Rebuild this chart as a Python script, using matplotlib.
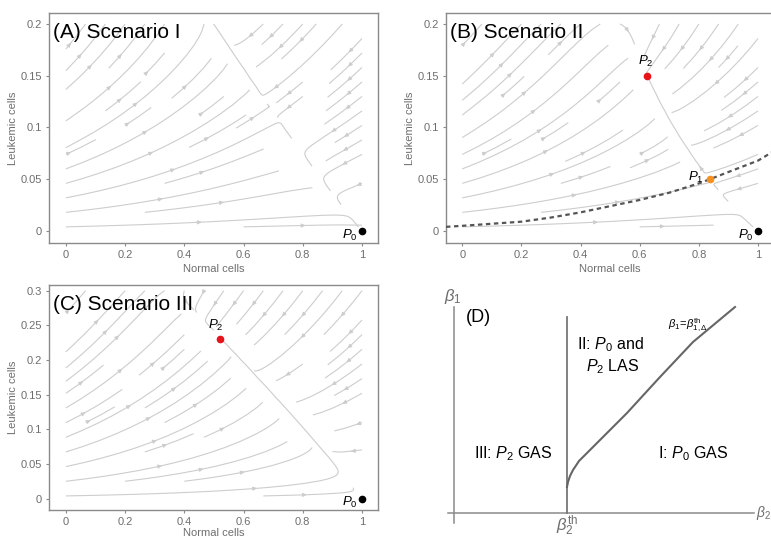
import numpy as np
import matplotlib
matplotlib.use("Agg")
import matplotlib.pyplot as plt

plt.rcParams['font.family'] = ['Liberation Sans', 'DejaVu Sans']
plt.rcParams['mathtext.fontset'] = 'custom'
plt.rcParams['mathtext.rm'] = 'Liberation Sans'
plt.rcParams['mathtext.it'] = 'Liberation Sans:italic'
plt.rcParams['mathtext.bf'] = 'Liberation Sans:bold'

# ticks
x_ticks = [0, 0.2, 0.4, 0.6, 0.8, 1]
x_tick_labels = ['0', '0.2', '0.4', '0.6', '0.8', '1']
y_ticks_ab = [0, 0.05, 0.1, 0.15, 0.2]
y_tick_labels_ab = ['0', '0.05', '0.1', '0.15', '0.2']
y_ticks_c = [0, 0.05, 0.1, 0.15, 0.2, 0.25, 0.3]
y_tick_labels_c = ['0', '0.05', '0.1', '0.15', '0.2', '0.25', '0.3']

# model parameters: N-nullcline N = 1 - c*L + q*L^2, L-nullcline N = beta - eps*L
params_a = dict(c=2.6, q=0.0, beta=0.94, eps=2.1, rate=1.8)
params_b = dict(c=3.7, q=8.0, beta=0.94, eps=2.1, rate=1.8)
params_c = dict(c=2.06, q=0.0, beta=1.086, eps=2.43, rate=1.8)

# equilibria (normal, leukemic)
p0 = (1.0, 0.0)
b_p1 = (0.837, 0.050)
b_p2 = (0.625, 0.150)
c_p2 = (0.52, 0.231)

# separatrix in scenario II
sep_n = [-0.055, 0.0, 0.1, 0.2, 0.3, 0.4, 0.5, 0.6, 0.7, 0.8, 0.837, 0.9, 1.0, 1.07]
sep_l = [0.004, 0.005, 0.007, 0.009, 0.013, 0.018, 0.024, 0.030, 0.037, 0.046,
         0.050, 0.057, 0.068, 0.080]

# panel D boundary curve (schematic units)
bound_b2 = [1.13, 1.14, 1.16, 1.19, 1.25, 1.39, 1.55, 1.73, 2.06, 2.39, 2.81]
bound_b1 = [0.26, 0.31, 0.37, 0.43, 0.52, 0.66, 0.82, 1.00, 1.36, 1.71, 2.06]
beta2_th = 1.13

GRAY = '#8a8a8a'
TXT = '#6e6e6e'
STREAM = '#cdcdcd'


def field(n, l, c, q, beta, eps, rate):
    dn = 1 - n - c * l + q * l ** 2
    dl = rate * l * (beta - n - eps * l)
    return dn, dl


def stream_panel(ax, params, lmax, yticks, ylabels, xlim, ylim, title, xpad=3):
    n = np.linspace(0, 1, 80)
    l = np.linspace(0.004, lmax, 80)
    N, L = np.meshgrid(n, l)
    U, V = field(N, L, **params)
    kw = dict(color=STREAM, linewidth=0.8, arrowsize=0.55, density=(0.55, 0.5))
    try:
        ax.streamplot(N, L, U, V, num_arrows=4, **kw)
    except TypeError:
        ax.streamplot(N, L, U, V, **kw)
    ax.set_xlim(*xlim)
    ax.set_ylim(*ylim)
    ax.set_xticks(x_ticks)
    ax.set_xticklabels(x_tick_labels)
    ax.set_yticks(yticks)
    ax.set_yticklabels(ylabels)
    ax.tick_params(direction='out', length=2.5, color=GRAY, labelcolor=TXT,
                   labelsize=8, pad=2.5)
    for s in ax.spines.values():
        s.set_color(GRAY)
        s.set_linewidth(1.0)
    ax.set_xlabel('Normal cells', color=TXT, fontsize=8, labelpad=xpad)
    ax.set_ylabel('Leukemic cells', color=TXT, fontsize=8, labelpad=1.5)
    ax.text(0.012, 0.915, title, transform=ax.transAxes, fontsize=15,
            ha='left', va='center', color='black')


def point(ax, pt, color, label, dx, dy, ha):
    ax.plot(pt[0], pt[1], 'o', color=color, markersize=4.5, zorder=5, clip_on=False)
    ax.text(pt[0] + dx, pt[1] + dy, label, fontsize=9.5, ha=ha, va='center', zorder=6)


fig = plt.figure(figsize=(7.71, 5.37), dpi=100)

ax_a = fig.add_axes([49 / 771, 1 - 243 / 537, 329 / 771, 230 / 537])
stream_panel(ax_a, params_a, 0.2, y_ticks_ab, y_tick_labels_ab,
             (-0.057, 1.054), (-0.0116, 0.2106), '(A) Scenario I')
point(ax_a, p0, 'black', '$P_0$', -0.015, -0.004, 'right')

ax_b = fig.add_axes([446 / 771, 1 - 243 / 537, 328 / 771, 230 / 537])
stream_panel(ax_b, params_b, 0.2, y_ticks_ab, y_tick_labels_ab,
             (-0.055, 1.054), (-0.0116, 0.2106), '(B) Scenario II')
ax_b.plot(sep_n, sep_l, color='#555555', linewidth=1.6, linestyle=(0, (2, 1.6)), zorder=4)
point(ax_b, p0, 'black', '$P_0$', -0.015, -0.004, 'right')
point(ax_b, b_p1, '#f7901e', '$P_1$', -0.02, 0.002, 'right')
point(ax_b, b_p2, '#e8121b', '$P_2$', -0.005, 0.014, 'center')

ax_c = fig.add_axes([49 / 771, 1 - 510 / 537, 329 / 771, 225 / 537])
stream_panel(ax_c, params_c, 0.3, y_ticks_c, y_tick_labels_c,
             (-0.057, 1.054), (-0.0163, 0.3082), '(C) Scenario III', xpad=0.5)
point(ax_c, p0, 'black', '$P_0$', -0.015, -0.006, 'right')
point(ax_c, c_p2, '#e8121b', '$P_2$', -0.015, 0.019, 'center')

# panel D: schematic bifurcation diagram
ax_d = fig.add_axes([440 / 771, 0, 331 / 771, 247 / 537])
ax_d.set_xlim(-0.14, 3.17)
ax_d.set_ylim(-0.24, 2.23)
ax_d.axis('off')
ax_d.plot([-0.06, 3.0], [0, 0], color=GRAY, linewidth=1.1)
ax_d.plot([0, 0], [-0.10, 2.06], color=GRAY, linewidth=1.1)
ax_d.plot([beta2_th, beta2_th], [0, 1.96], color='#777777', linewidth=1.3)
ax_d.plot(bound_b2, bound_b1, color='#666666', linewidth=1.5)
ax_d.text(-0.01, 2.16, r'$\beta_1$', fontsize=12, color=TXT, ha='center', va='center')
ax_d.text(3.02, 0.0, r'$\beta_2$', fontsize=10, color=TXT, ha='left', va='center')
ax_d.text(beta2_th, -0.13, r'$\beta_2^{\rm th}$', fontsize=12, color=TXT, ha='center', va='center')
ax_d.text(0.24, 1.95, '(D)', fontsize=13, ha='center', va='center')
ax_d.text(2.34, 1.88, r'$\beta_1\!=\!\beta^{\rm th}_{1,\Delta}$', fontsize=8, ha='center', va='center')
ax_d.text(1.56, 1.68, r'II: $P_0$ and', fontsize=11.5, ha='center', va='center')
ax_d.text(1.59, 1.46, r'$P_2$ LAS', fontsize=11.5, ha='center', va='center')
ax_d.text(0.59, 0.59, r'III: $P_2$ GAS', fontsize=11.5, ha='center', va='center')
ax_d.text(2.39, 0.59, r'I: $P_0$ GAS', fontsize=11.5, ha='center', va='center')

fig.savefig('out.png', dpi=100)
